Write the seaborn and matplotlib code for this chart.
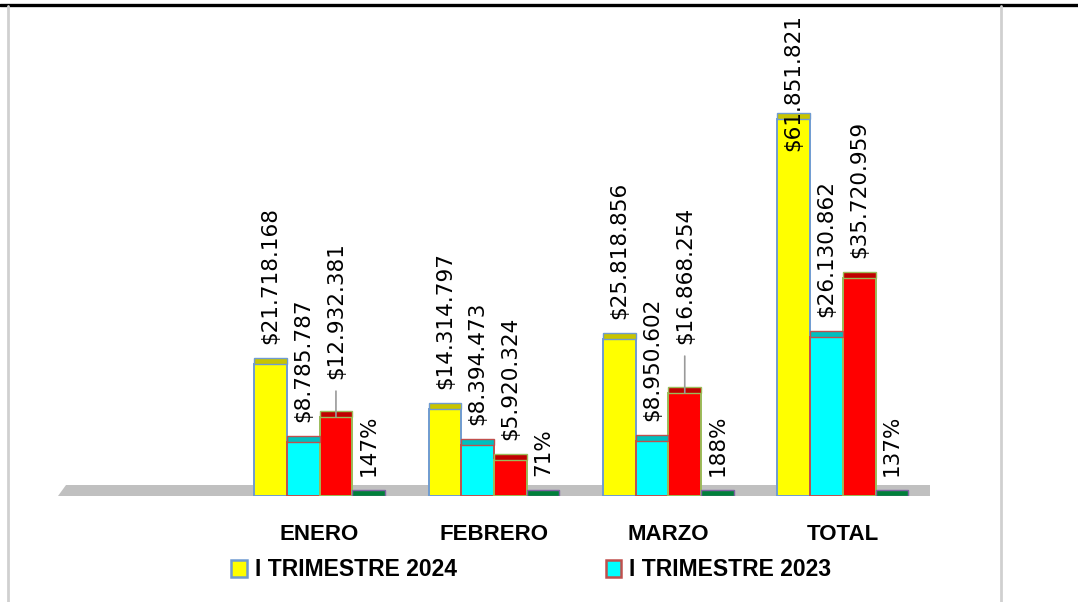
import numpy as np
import pandas as pd
import matplotlib
matplotlib.use("Agg")
import matplotlib.pyplot as plt
from matplotlib.patches import Rectangle, Polygon, Patch
from matplotlib.lines import Line2D
import seaborn as sns

# ---------------- data ----------------
MESES = ["ENERO", "FEBRERO", "MARZO", "TOTAL"]
TRIM_2024 = [21718168, 14314797, 25818856, 61851821]
TRIM_2023 = [8785787, 8394473, 8950602, 26130862]
DIFERENCIA = [12932381, 5920324, 16868254, 35720959]
VARIACION_PCT = [147, 71, 188, 137]
SERIES = ["I TRIMESTRE 2024", "I TRIMESTRE 2023", "DIFERENCIA", "VARIACION"]
LEGEND_LABELS = ["I TRIMESTRE 2024", "I TRIMESTRE 2023"]

# ---------------- style ----------------
sns.set_style("white")
plt.rcParams["font.family"] = ["DejaVu Sans"]
plt.rcParams["text.color"] = "black"
plt.rcParams["xtick.color"] = "black"

FACE = ["#FFFF00", "#00FFFF", "#FF0000", "#008A3E"]
EDGE = ["#6F9BD1", "#C0504D", "#9BBB59", "#8064A2"]
CAP = ["#C8C400", "#00BFBF", "#C00000", "#00803A"]

W, H, DPI = 1078, 602, 100
fig = plt.figure(figsize=(W / DPI, H / DPI), dpi=DPI)
ax_left, ax_right, ax_bottom, ax_top = 58, 930, 496, 5
ax = fig.add_axes([ax_left / W, 1 - ax_bottom / H,
                   (ax_right - ax_left) / W, (ax_bottom - ax_top) / H])

rows = []
for i, m in enumerate(MESES):
    rows.append((m, SERIES[0], TRIM_2024[i]))
    rows.append((m, SERIES[1], TRIM_2023[i]))
    rows.append((m, SERIES[2], DIFERENCIA[i]))
    rows.append((m, SERIES[3], VARIACION_PCT[i] / 100.0))
df = pd.DataFrame(rows, columns=["mes", "serie", "valor"])

px_per_unit = 6.1e-6
ymax = (ax_bottom - ax_top) / px_per_unit

sns.barplot(data=df, x="mes", y="valor", hue="serie", order=MESES,
            hue_order=SERIES, palette=FACE, width=0.75, dodge=True,
            legend=False, ax=ax, saturation=1, errorbar=None, zorder=2)

ax.set_xlim(-1.5, 3.5)
ax.set_ylim(0, ymax)
for s in ax.spines.values():
    s.set_visible(False)
ax.set_yticks([])
ax.set_xlabel("")
ax.set_ylabel("")
ax.tick_params(axis="x", length=0, pad=20, colors="black")
for lab in ax.get_xticklabels():
    lab.set_fontfamily(["Liberation Sans", "DejaVu Sans"])
    lab.set_fontweight("bold")
    lab.set_fontsize(16)
    lab.set_color("black")

# floor (3D base)
fh = 11 / (ax_bottom - ax_top)
floor = Polygon([(0, 0), (1, 0), (1.0, fh), (0.009, fh)], closed=True,
                transform=ax.transAxes, facecolor="#C0C0C0",
                edgecolor="none", zorder=1)
ax.add_patch(floor)

cap_h = 6 / px_per_unit
label_gap_px = 20
extra_gap = {("ENERO", 2): 18, ("MARZO", 2): 29}
leader = {("ENERO", 2), ("MARZO", 2)}

labels = []
for si, cont in enumerate(ax.containers):
    for mi, bar in enumerate(cont):
        bar.set_edgecolor(EDGE[si])
        bar.set_linewidth(1.4)
        x0, w = bar.get_x(), bar.get_width()
        top = bar.get_height()
        ax.add_patch(Rectangle((x0, top), w, cap_h, facecolor=CAP[si],
                               edgecolor=EDGE[si], linewidth=1.0, zorder=2))
        if si < 3:
            val = [TRIM_2024, TRIM_2023, DIFERENCIA][si][mi]
            txt = "$" + f"{val:,}".replace(",", ".")
        else:
            txt = f"{VARIACION_PCT[mi]}%"
        gap = label_gap_px + extra_gap.get((MESES[mi], si), 0)
        ann = ax.annotate(txt, xy=(x0 + w / 2, top), xytext=(0, gap * 72 / DPI),
                          textcoords="offset points", rotation=90,
                          ha="center", va="bottom", fontsize=15.5,
                          color="black", zorder=5, annotation_clip=False,
                          fontfamily=["DejaVu Sans"])
        labels.append(ann)
        if (MESES[mi], si) in leader:
            ax.annotate("", xy=(x0 + w / 2, top),
                        xytext=(0, (gap - 12) * 72 / DPI),
                        textcoords="offset points",
                        arrowprops=dict(arrowstyle="-", color="#9A9A9A", lw=1.2,
                                        shrinkA=0, shrinkB=0), zorder=4)

# keep labels inside the figure
fig.canvas.draw()
renderer = fig.canvas.get_renderer()
limit = H - 14
for ann in labels:
    bb = ann.get_window_extent(renderer)
    if bb.y1 > limit:
        dy = (bb.y1 - limit) * 72 / DPI
        ann.xyann = (ann.xyann[0], ann.xyann[1] - dy)

# legend
handles = [Patch(facecolor=FACE[0], edgecolor=EDGE[0], linewidth=1.8),
           Patch(facecolor=FACE[1], edgecolor=EDGE[1], linewidth=1.8)]
leg = fig.legend(handles, LEGEND_LABELS, loc="center left",
                 bbox_to_anchor=(231 / W, 1 - 570 / H), ncol=2, frameon=False,
                 borderpad=0, borderaxespad=0, handlelength=0.68,
                 handleheight=0.75, handletextpad=0.35, columnspacing=6.5,
                 prop={"family": ["Liberation Sans", "DejaVu Sans"],
                       "weight": "bold", "size": 16.5})
for t in leg.get_texts():
    t.set_color("black")

# frame lines
fig.add_artist(Line2D([0, 1], [1 - 5 / H, 1 - 5 / H], color="black", lw=2.4,
                      transform=fig.transFigure))
fig.add_artist(Line2D([8 / W, 8 / W], [0, 1 - 6 / H], color="#D0D0D0", lw=2,
                      transform=fig.transFigure))
fig.add_artist(Line2D([1001 / W, 1001 / W], [0, 1 - 6 / H], color="#D0D0D0",
                      lw=2, transform=fig.transFigure))

fig.savefig("out.png", dpi=DPI)
